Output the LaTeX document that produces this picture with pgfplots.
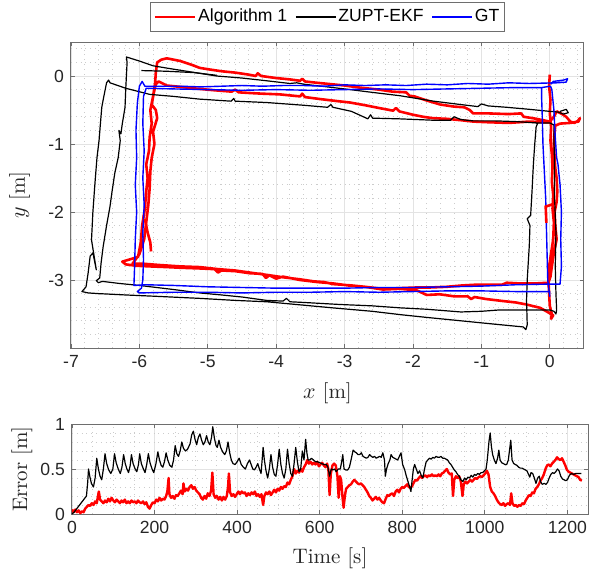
\documentclass[border=0pt]{standalone}
\usepackage{fontspec}
\usepackage{pgfplots}
\pgfplotsset{compat=1.18}
\newfontfamily\arial{Liberation Sans}
\definecolor{axcol}{RGB}{110,110,110}
\definecolor{txtcol}{RGB}{38,38,38}

\pgfplotsset{mstyle/.style={
    scale only axis,
    axis line style={draw=axcol, line width=0.5pt},
    tick style={draw=axcol, line width=0.4pt},
    major tick length=2pt, minor tick length=0pt,
    tick align=inside,
    grid=both,
    major grid style={draw=gray!22, line width=0.4pt},
    minor grid style={draw=gray!40, dotted, line width=0.4pt},
    tick label style={font=\arial\fontsize{8.8}{10.5}\selectfont, text=txtcol},
    /pgf/number format/assume math mode=true,
    /pgf/number format/1000 sep={},
    label style={font=\fontsize{10.5}{12}\selectfont, text=txtcol},
}}

\begin{document}
\begin{tikzpicture}
% ---- trajectories ----
\begin{axis}[mstyle,
    at={(0pt,0pt)}, anchor=south west,
    width=256.5pt, height=153pt,
    xmin=-7, xmax=0.5, ymin=-4, ymax=0.5,
    xtick={-7,-6,...,0}, ytick={-3,-2,-1,0},
    minor xtick={-6.8,-6.6,...,0.45},
    minor ytick={-3.8,-3.6,...,0.45},
    xlabel={$x$ [m]}, ylabel={$y$ [m]},
    xlabel style={at={(axis description cs:0.5,-0.147)}, anchor=center},
    ylabel style={at={(axis description cs:-0.1,0.5)}, anchor=center},
    legend columns=3,
    legend cell align=left,
    legend image code/.code={\draw[#1] (0pt,0pt) -- (20pt,0pt);},
    legend style={at={(axis description cs:0.5,1.033)}, anchor=south,
        draw=axcol, fill=white, line width=0.5pt,
        font=\arial\fontsize{8.8}{10.5}\selectfont, text=black,
        inner xsep=1.5pt, inner ysep=1pt,
        nodes={inner xsep=1pt, inner ysep=2.3pt},
        /tikz/every even column/.append style={column sep=3pt}},
]
% Algorithm 1
\addplot[red, line width=1.3pt, line join=round] coordinates {
(0.00,0.02) (-0.01,-0.15) (0.01,-0.35) (0.00,-0.55) (0.02,-0.75) (0.01,-0.95)
(0.03,-1.15) (0.04,-1.35) (0.03,-1.55) (0.05,-1.75) (0.04,-1.95) (0.06,-2.15)
(0.05,-2.4) (0.02,-2.6) (-0.01,-2.8) (-0.02,-3.0) (-0.01,-3.2) (0.00,-3.38)
(0.03,-3.5) (0.02,-3.57) (0.05,-3.52) (-0.05,-3.46) (-0.14,-3.41) (-0.34,-3.36)
(-0.5,-3.33) (-0.68,-3.31) (-0.93,-3.28) (-1.1,-3.25) (-1.15,-3.28) (-1.2,-3.24)
(-1.4,-3.24) (-1.61,-3.21) (-1.8,-3.22) (-1.95,-3.15) (-2.2,-3.13) (-2.44,-3.14)
(-2.7,-3.1) (-2.9,-3.08) (-3.17,-3.06) (-3.3,-3.03) (-3.45,-3.02) (-3.65,-2.99)
(-3.9,-2.96) (-4.1,-2.93) (-4.15,-2.97) (-4.2,-2.91) (-4.39,-2.9) (-4.6,-2.87)
(-4.8,-2.86) (-4.85,-2.89) (-4.9,-2.84) (-5.12,-2.83) (-5.4,-2.82) (-5.6,-2.81)
(-5.85,-2.8) (-6.05,-2.79) (-6.2,-2.77) (-6.25,-2.73) (-6.15,-2.7) (-6.02,-2.66)
(-5.98,-2.45) (-5.96,-2.2) (-5.92,-1.95) (-5.9,-1.7) (-5.88,-1.5) (-5.9,-1.3)
(-5.86,-1.1) (-5.85,-0.9) (-5.82,-0.7) (-5.84,-0.5) (-5.8,-0.3) (-5.77,-0.1)
(-5.76,0.05) (-5.74,0.2) (-5.68,0.24) (-5.6,0.26) (-5.5,0.24) (-5.4,0.22)
(-5.25,0.17) (-5.12,0.12) (-5.0,0.1) (-4.8,0.07) (-4.6,0.05) (-4.4,0.02)
(-4.3,0.0) (-4.27,0.04) (-4.22,0.0) (-4.0,-0.03) (-3.8,-0.05) (-3.65,-0.07)
(-3.62,-0.04) (-3.58,-0.08) (-3.4,-0.1) (-3.2,-0.12) (-3.0,-0.14) (-2.78,-0.17)
(-2.5,-0.2) (-2.3,-0.23) (-2.1,-0.24) (-2.05,-0.29) (-1.98,-0.3) (-1.8,-0.36)
(-1.6,-0.42) (-1.4,-0.45) (-1.25,-0.46) (-1.17,-0.5) (-1.12,-0.55) (-0.9,-0.55)
(-0.6,-0.56) (-0.42,-0.55) (-0.38,-0.6) (-0.25,-0.62) (-0.1,-0.65) (0.0,-0.67)
(0.06,-0.6) (0.1,-0.52) (0.18,-0.56) (0.24,-0.6) (0.3,-0.67) (0.36,-0.69)
(0.41,-0.66) (0.44,-0.62) (0.42,-0.67) (0.3,-0.69) (0.15,-0.7) (0.08,-0.73)
(0.06,-0.95) (0.07,-1.2) (0.08,-1.35) (0.1,-1.5) (0.11,-1.7) (0.1,-1.85)
(0.07,-2.0) (0.08,-2.2) (0.1,-2.4) (0.06,-2.6) (0.03,-2.8) (0.01,-2.95)
(-0.02,-3.04) (-0.2,-3.05) (-0.45,-3.05) (-0.63,-3.04) (-0.7,-3.07) (-0.9,-3.07)
(-1.1,-3.07) (-1.28,-3.08) (-1.51,-3.1) (-1.75,-3.11) (-1.95,-3.11) (-2.2,-3.12)
(-2.44,-3.13) (-2.7,-3.1) (-2.95,-3.08) (-3.17,-3.05) (-3.4,-3.03) (-3.65,-3.0)
(-3.9,-2.95) (-4.0,-2.98) (-4.1,-2.93) (-4.39,-2.89) (-4.6,-2.86) (-4.85,-2.84)
(-5.12,-2.81) (-5.4,-2.8) (-5.7,-2.78) (-5.95,-2.76) (-6.1,-2.76) (-6.0,-2.62)
(-5.93,-2.4) (-5.9,-2.15) (-5.87,-1.9) (-5.85,-1.65) (-5.84,-1.4) (-5.82,-1.2)
(-5.78,-1.0) (-5.8,-0.82) (-5.74,-0.62) (-5.76,-0.5) (-5.82,-0.42) (-5.79,-0.25)
(-5.76,-0.12) (-5.72,-0.08) (-5.6,-0.14) (-5.4,-0.16) (-5.12,-0.19) (-4.9,-0.21)
(-4.65,-0.23) (-4.6,-0.2) (-4.55,-0.24) (-4.39,-0.25) (-4.2,-0.26) (-3.95,-0.27)
(-3.75,-0.29) (-3.65,-0.3) (-3.62,-0.26) (-3.58,-0.31) (-3.35,-0.34) (-3.1,-0.37)
(-2.92,-0.39) (-2.7,-0.43) (-2.5,-0.47) (-2.29,-0.51) (-2.25,-0.47) (-2.2,-0.52)
(-2.0,-0.57) (-1.85,-0.6) (-1.71,-0.62) (-1.5,-0.63) (-1.3,-0.65) (-1.12,-0.67)
(-0.9,-0.68) (-0.6,-0.69) (-0.3,-0.67) (-0.1,-0.68) (0.0,-0.68)
};
\addlegendentry{Algorithm 1}
% ZUPT-EKF
\addplot[black, line width=0.6pt, line join=round] coordinates {
(0.15,-0.52) (0.24,-0.49) (0.27,-0.54) (0.2,-0.56) (0.12,-0.53) (0.0,-0.52)
(-0.3,-0.49) (-0.63,-0.46) (-0.9,-0.44) (-1.0,-0.41) (-1.05,-0.45) (-1.3,-0.42)
(-1.7,-0.37) (-2.19,-0.29) (-2.6,-0.24) (-3.0,-0.19) (-3.17,-0.17) (-3.6,-0.12)
(-3.7,-0.1) (-3.8,-0.11) (-4.14,-0.07) (-4.5,-0.03) (-4.87,0.0) (-5.12,0.04)
(-5.5,0.1) (-5.8,0.15) (-6.0,0.22) (-6.19,0.28) (-6.18,0.2) (-6.19,0.0)
(-6.2,-0.2) (-6.21,-0.46) (-6.25,-0.7) (-6.27,-0.85) (-6.3,-0.8) (-6.28,-0.95)
(-6.31,-1.2) (-6.36,-1.43) (-6.4,-1.7) (-6.43,-1.92) (-6.48,-2.2) (-6.53,-2.51)
(-6.56,-2.75) (-6.58,-2.97) (-6.63,-3.01) (-6.6,-3.04) (-6.54,-3.02) (-6.3,-3.05)
(-6.0,-3.08) (-5.5,-3.14) (-5.12,-3.19) (-4.8,-3.22) (-4.5,-3.25) (-4.14,-3.3)
(-3.9,-3.31) (-3.85,-3.27) (-3.8,-3.32) (-3.6,-3.33) (-3.07,-3.36) (-2.6,-3.38)
(-2.18,-3.41) (-1.8,-3.43) (-1.3,-3.47) (-1.0,-3.46) (-0.73,-3.44) (-0.4,-3.44)
(0.0,-3.44) (0.06,-3.46) (0.09,-3.5) (0.1,-3.44) (0.09,-3.2) (0.08,-2.8)
(0.09,-2.3) (0.07,-1.8) (0.07,-1.3) (0.06,-0.9) (0.06,-0.72) (0.0,-0.69)
(-0.2,-0.69) (-0.5,-0.67) (-0.8,-0.66) (-1.12,-0.66) (-1.3,-0.64) (-1.4,-0.6)
(-1.45,-0.65) (-1.71,-0.65) (-2.2,-0.63) (-2.59,-0.62) (-2.62,-0.57) (-2.66,-0.63)
(-2.9,-0.52) (-3.17,-0.46) (-3.2,-0.42) (-3.25,-0.46) (-3.6,-0.43) (-4.14,-0.39)
(-4.6,-0.37) (-4.62,-0.33) (-4.66,-0.37) (-5.12,-0.34) (-5.5,-0.3) (-5.85,-0.27)
(-6.2,-0.18) (-6.43,-0.1) (-6.45,-0.06) (-6.48,-0.1) (-6.52,-0.3) (-6.55,-0.46)
(-6.57,-0.7) (-6.59,-0.95) (-6.62,-1.2) (-6.65,-1.58) (-6.68,-2.0) (-6.7,-2.41)
(-6.63,-2.85) (-6.68,-2.6) (-6.72,-2.65) (-6.75,-2.9) (-6.78,-3.1) (-6.84,-3.17)
(-6.75,-3.19) (-6.6,-3.2) (-6.2,-3.22) (-5.75,-3.24) (-5.12,-3.27) (-4.6,-3.3)
(-4.14,-3.32) (-3.6,-3.37) (-3.17,-3.41) (-2.6,-3.46) (-2.18,-3.51) (-1.8,-3.55)
(-1.3,-3.6) (-0.8,-3.65) (-0.39,-3.69) (-0.35,-3.73) (-0.33,-3.66) (-0.34,-3.3)
(-0.33,-3.0) (-0.3,-2.5) (-0.29,-2.2) (-0.33,-2.1) (-0.28,-2.05) (-0.26,-1.7)
(-0.24,-1.3) (-0.22,-1.0) (-0.2,-0.75) (-0.18,-0.7) (-0.22,-0.68)
};
\addlegendentry{ZUPT-EKF}
% GT
\addplot[blue, line width=0.7pt, line join=round] coordinates {
(0.02,-0.12) (0.05,-0.08) (0.2,-0.06) (0.26,-0.04) (0.24,-0.09) (0.1,-0.1)
(-0.3,-0.11) (-0.6,-0.1) (-0.9,-0.12) (-1.2,-0.11) (-1.5,-0.13) (-1.8,-0.12)
(-2.1,-0.14) (-2.4,-0.13) (-2.7,-0.14) (-3.0,-0.13) (-3.3,-0.15) (-3.6,-0.14)
(-3.9,-0.14) (-4.2,-0.15) (-4.5,-0.14) (-4.8,-0.15) (-5.1,-0.16) (-5.4,-0.15)
(-5.7,-0.15) (-5.92,-0.15) (-5.96,-0.08) (-6.0,-0.15) (-6.03,-0.4) (-6.05,-0.8)
(-6.04,-1.2) (-6.06,-1.6) (-6.04,-2.0) (-6.06,-2.4) (-6.07,-2.8) (-6.08,-3.08)
(-5.9,-3.07) (-5.5,-3.08) (-5.0,-3.1) (-4.5,-3.11) (-4.0,-3.12) (-3.5,-3.12)
(-3.0,-3.12) (-2.5,-3.11) (-2.0,-3.11) (-1.5,-3.1) (-1.0,-3.09) (-0.5,-3.07)
(0.0,-3.06) (0.15,-3.06) (0.17,-2.8) (0.16,-2.4) (0.17,-2.0) (0.15,-1.6)
(0.12,-1.3) (0.1,-1.2) (0.08,-0.9) (0.06,-0.5) (0.03,-0.2) (0.01,-0.15)
(-0.12,-0.17) (-0.5,-0.17) (-1.0,-0.18) (-1.5,-0.19) (-2.0,-0.2) (-2.5,-0.19)
(-3.0,-0.2) (-3.5,-0.21) (-4.0,-0.2) (-4.5,-0.21) (-5.0,-0.2) (-5.5,-0.19)
(-5.9,-0.18) (-5.94,-0.3) (-5.95,-0.7) (-5.93,-1.1) (-5.95,-1.5) (-5.93,-1.9)
(-5.95,-2.3) (-5.94,-2.7) (-5.95,-3.0) (-5.97,-3.12) (-6.03,-3.17) (-6.0,-3.19)
(-5.5,-3.18) (-5.0,-3.18) (-4.5,-3.19) (-4.0,-3.18) (-3.5,-3.18) (-3.0,-3.17)
(-2.5,-3.18) (-2.0,-3.17) (-1.5,-3.16) (-1.0,-3.16) (-0.5,-3.17) (0.0,-3.17)
(0.0,-3.24) (-0.03,-3.0) (-0.04,-2.6) (-0.05,-2.2) (-0.06,-1.8) (-0.08,-1.4)
(-0.1,-1.0) (-0.11,-0.6) (-0.12,-0.3) (-0.12,-0.17)
};
\addlegendentry{GT}
% short pieces of the same runs
\addplot[red, line width=1.3pt, forget plot] coordinates {
(-5.92,-2.1) (-5.88,-2.3) (-5.84,-2.45) (-5.83,-2.58)};
\addplot[red, line width=1.3pt, forget plot] coordinates {
(0.06,-1.88) (-0.06,-1.92) (-0.05,-2.16)};
\addplot[black, line width=0.6pt, forget plot] coordinates {
(-5.97,0.08) (-5.6,0.07) (-5.2,0.05) (-4.87,0.01)};
\end{axis}

% ---- error over time ----
\begin{axis}[mstyle,
    at={(0.5pt,-83pt)}, anchor=south west,
    width=258pt, height=45pt,
    xmin=0, xmax=1250, ymin=0, ymax=1,
    xtick={0,200,...,1200}, ytick={0,0.5,1},
    minor xtick={50,100,...,1250},
    minor ytick={0.1,0.2,...,0.95},
    xlabel={Time [s]}, ylabel={Error [m]},
    xlabel style={at={(axis description cs:0.5,-0.49)}, anchor=center},
    ylabel style={at={(axis description cs:-0.097,0.5)}, anchor=center},
]
\addplot[red, line width=1.2pt, line join=round] coordinates {
(0,0.05) (4,0.02) (8,0.05) (12,0.02) (16,0.04) (20,0.01) (24,0.03) (28,0.02)
(32,0.06) (36,0.08) (40,0.1) (44,0.09) (48,0.12) (52,0.1) (56,0.14) (60,0.12)
(63,0.2) (65,0.25) (68,0.16) (72,0.14) (76,0.12) (80,0.15) (84,0.13) (88,0.17)
(92,0.14) (96,0.18) (100,0.15) (104,0.13) (108,0.16) (112,0.14) (116,0.12)
(120,0.15) (124,0.13) (128,0.16) (132,0.12) (136,0.14) (140,0.12) (144,0.15)
(148,0.13) (152,0.14) (156,0.12) (160,0.15) (164,0.13) (168,0.12) (172,0.14)
(176,0.11) (180,0.13) (184,0.08) (188,0.06) (192,0.1) (196,0.13) (200,0.12)
(204,0.16) (208,0.14) (212,0.18) (216,0.15) (220,0.17) (224,0.16) (228,0.2)
(231,0.25) (234,0.4) (236,0.22) (240,0.18) (244,0.2) (248,0.17) (252,0.21)
(256,0.2) (260,0.23) (264,0.26) (268,0.22) (270,0.34) (273,0.25) (277,0.28)
(281,0.26) (285,0.3) (289,0.32) (293,0.28) (297,0.3) (301,0.26) (305,0.24)
(309,0.22) (313,0.18) (317,0.16) (321,0.2) (325,0.17) (329,0.23) (333,0.2)
(337,0.26) (340,0.46) (343,0.22) (347,0.18) (351,0.2) (355,0.16) (359,0.19)
(363,0.15) (367,0.19) (371,0.16) (375,0.2) (378,0.3) (380,0.45) (383,0.24)
(387,0.2) (391,0.22) (395,0.19) (399,0.22) (403,0.25) (407,0.22) (411,0.25)
(415,0.23) (419,0.24) (423,0.2) (427,0.23) (431,0.21) (435,0.24) (439,0.22)
(443,0.25) (447,0.2) (451,0.22) (455,0.19) (459,0.22) (463,0.1) (466,0.2)
(470,0.24) (474,0.22) (478,0.25) (482,0.21) (486,0.24) (490,0.27) (494,0.24)
(498,0.28) (502,0.26) (506,0.3) (510,0.28) (514,0.31) (518,0.3) (522,0.35)
(526,0.33) (530,0.38) (534,0.42) (538,0.5) (542,0.45) (546,0.48) (550,0.46)
(554,0.5) (558,0.47) (562,0.52) (566,0.55) (570,0.6) (574,0.56) (578,0.58)
(582,0.55) (586,0.57) (590,0.55) (594,0.58) (598,0.53) (602,0.55) (606,0.57)
(610,0.54) (614,0.52) (618,0.56) (621,0.5) (624,0.21) (627,0.45) (631,0.54)
(635,0.56) (639,0.54) (643,0.42) (646,0.18) (649,0.42) (652,0.38) (655,0.2)
(658,0.07) (661,0.2) (664,0.28) (668,0.3) (672,0.32) (676,0.33) (680,0.36)
(684,0.38) (688,0.36) (692,0.34) (696,0.33) (700,0.34) (704,0.32) (708,0.3)
(712,0.27) (716,0.24) (720,0.2) (724,0.18) (728,0.15) (732,0.17) (736,0.19)
(740,0.16) (744,0.18) (748,0.15) (752,0.13) (756,0.12) (760,0.17) (764,0.21)
(768,0.2) (772,0.22) (776,0.23) (780,0.2) (784,0.25) (788,0.27) (792,0.24)
(796,0.28) (800,0.3) (804,0.29) (808,0.31) (812,0.33) (816,0.3) (820,0.29)
(824,0.31) (828,0.35) (832,0.38) (836,0.37) (840,0.4) (844,0.42) (848,0.4)
(852,0.42) (856,0.43) (860,0.41) (864,0.43) (868,0.42) (872,0.44) (876,0.42)
(880,0.43) (884,0.42) (888,0.44) (892,0.42) (896,0.45) (900,0.46) (904,0.48)
(908,0.5) (912,0.46) (916,0.44) (920,0.45) (923,0.2) (926,0.38) (930,0.42)
(934,0.4) (938,0.42) (942,0.36) (946,0.2) (949,0.33) (953,0.36) (957,0.34)
(961,0.36) (965,0.38) (969,0.36) (973,0.38) (977,0.4) (981,0.39) (985,0.41)
(989,0.42) (993,0.41) (997,0.43) (1001,0.45) (1005,0.48) (1009,0.44) (1013,0.3)
(1017,0.25) (1021,0.23) (1025,0.2) (1029,0.16) (1033,0.13) (1037,0.11)
(1041,0.1) (1045,0.12) (1049,0.09) (1053,0.11) (1057,0.12) (1061,0.1)
(1064,0.23) (1067,0.12) (1071,0.09) (1075,0.1) (1079,0.08) (1083,0.1)
(1087,0.09) (1091,0.12) (1095,0.11) (1099,0.15) (1103,0.18) (1107,0.21)
(1111,0.2) (1115,0.24) (1119,0.23) (1123,0.28) (1127,0.3) (1131,0.33)
(1135,0.37) (1139,0.4) (1143,0.44) (1147,0.5) (1151,0.54) (1155,0.55)
(1159,0.53) (1163,0.56) (1167,0.58) (1171,0.6) (1175,0.63) (1179,0.61)
(1183,0.6) (1187,0.62) (1191,0.58) (1195,0.54) (1199,0.49) (1203,0.47)
(1207,0.46) (1211,0.45) (1215,0.44) (1219,0.43) (1223,0.42) (1227,0.41)
(1231,0.38) (1235,0.37)
};
\addplot[black, line width=0.6pt, line join=round] coordinates {
(0,0) (5,0.02) (10,0.05) (15,0.08) (20,0.11) (25,0.14) (30,0.17) (35,0.2)
(38,0.35) (40,0.5) (43,0.42) (47,0.34) (52,0.3) (56,0.4) (60,0.62) (64,0.5)
(68,0.42) (72,0.38) (76,0.5) (80,0.67) (84,0.56) (89,0.49) (94,0.45) (99,0.5)
(103,0.67) (107,0.57) (112,0.5) (117,0.45) (121,0.52) (125,0.66) (129,0.56)
(133,0.5) (137,0.46) (141,0.54) (144,0.66) (148,0.56) (153,0.5) (157,0.47)
(161,0.55) (164,0.67) (168,0.56) (173,0.5) (177,0.46) (181,0.55) (185,0.67)
(189,0.57) (194,0.5) (198,0.46) (203,0.55) (208,0.69) (212,0.6) (216,0.54)
(220,0.52) (224,0.58) (228,0.68) (232,0.6) (237,0.54) (242,0.52) (246,0.6)
(250,0.76) (254,0.67) (258,0.64) (262,0.7) (266,0.8) (270,0.73) (275,0.7)
(280,0.72) (286,0.78) (290,0.88) (294,0.92) (298,0.83) (302,0.77) (306,0.85)
(310,0.89) (314,0.82) (318,0.77) (322,0.8) (326,0.87) (330,0.8) (334,0.77)
(338,0.85) (341,0.97) (345,0.84) (349,0.76) (352,0.74) (356,0.82) (360,0.74)
(365,0.69) (370,0.66) (374,0.7) (378,0.8) (382,0.68) (386,0.6) (390,0.56)
(395,0.55) (400,0.58) (405,0.62) (410,0.55) (415,0.52) (420,0.5) (425,0.56)
(430,0.6) (434,0.55) (438,0.5) (442,0.49) (446,0.52) (450,0.56) (454,0.5)
(458,0.45) (463,0.74) (466,0.6) (470,0.48) (474,0.4) (478,0.5) (482,0.66)
(486,0.52) (490,0.44) (494,0.42) (498,0.55) (502,0.72) (506,0.55) (510,0.45)
(514,0.4) (518,0.5) (522,0.72) (526,0.56) (530,0.45) (534,0.42) (538,0.56)
(542,0.74) (546,0.58) (550,0.47) (554,0.5) (558,0.7) (562,0.6) (566,0.83)
(569,0.68) (572,0.6) (576,0.6) (580,0.62) (585,0.6) (590,0.58) (595,0.58)
(600,0.57) (605,0.56) (610,0.55) (616,0.55) (620,0.52) (624,0.42) (628,0.5)
(632,0.49) (636,0.5) (640,0.47) (645,0.5) (650,0.5) (654,0.6) (656,0.66)
(659,0.5) (663,0.49) (668,0.49) (672,0.52) (676,0.6) (681,0.71) (685,0.69)
(689,0.68) (693,0.66) (697,0.66) (701,0.68) (705,0.64) (709,0.63) (713,0.62)
(717,0.63) (721,0.66) (725,0.64) (729,0.63) (733,0.64) (737,0.62) (741,0.63)
(745,0.64) (749,0.63) (753,0.68) (757,0.6) (759,0.42) (762,0.5) (766,0.56)
(770,0.6) (773,0.66) (777,0.63) (781,0.62) (785,0.61) (789,0.6) (793,0.64)
(797,0.68) (801,0.55) (806,0.49) (810,0.42) (814,0.36) (818,0.3) (821,0.25)
(824,0.38) (827,0.5) (830,0.55) (834,0.5) (838,0.45) (842,0.48) (846,0.43)
(850,0.4) (854,0.5) (858,0.58) (862,0.6) (866,0.62) (870,0.61) (874,0.63)
(878,0.62) (882,0.64) (886,0.63) (890,0.63) (894,0.64) (898,0.62) (902,0.62)
(906,0.61) (910,0.6) (914,0.57) (918,0.55) (922,0.52) (926,0.49) (930,0.47)
(934,0.44) (938,0.42) (942,0.38) (947,0.36) (951,0.4) (955,0.38) (959,0.41)
(963,0.4) (967,0.43) (971,0.41) (975,0.44) (979,0.43) (983,0.45) (987,0.44)
(991,0.46) (995,0.46) (999,0.48) (1003,0.5) (1006,0.6) (1010,0.8) (1013,0.9)
(1016,0.75) (1019,0.66) (1023,0.6) (1027,0.56) (1031,0.62) (1034,0.71)
(1037,0.6) (1041,0.57) (1045,0.56) (1049,0.55) (1053,0.55) (1057,0.6)
(1061,0.75) (1063,0.82) (1066,0.6) (1070,0.56) (1074,0.55) (1078,0.54)
(1082,0.52) (1086,0.51) (1090,0.51) (1094,0.5) (1098,0.49) (1102,0.48)
(1106,0.44) (1109,0.41) (1112,0.46) (1116,0.45) (1120,0.4) (1124,0.34)
(1128,0.4) (1132,0.42) (1135,0.36) (1139,0.33) (1144,0.34) (1148,0.33)
(1152,0.35) (1156,0.4) (1160,0.44) (1164,0.46) (1168,0.45) (1172,0.47)
(1176,0.5) (1180,0.48) (1184,0.42) (1188,0.39) (1192,0.38) (1196,0.37)
(1200,0.38) (1205,0.43) (1210,0.45) (1215,0.44) (1220,0.45) (1225,0.45)
(1230,0.45) (1234,0.45)
};
\end{axis}
\pgfresetboundingbox
\path[use as bounding box] (-35.5pt,-113pt) rectangle (264.5pt,174pt);
\end{tikzpicture}
\end{document}
